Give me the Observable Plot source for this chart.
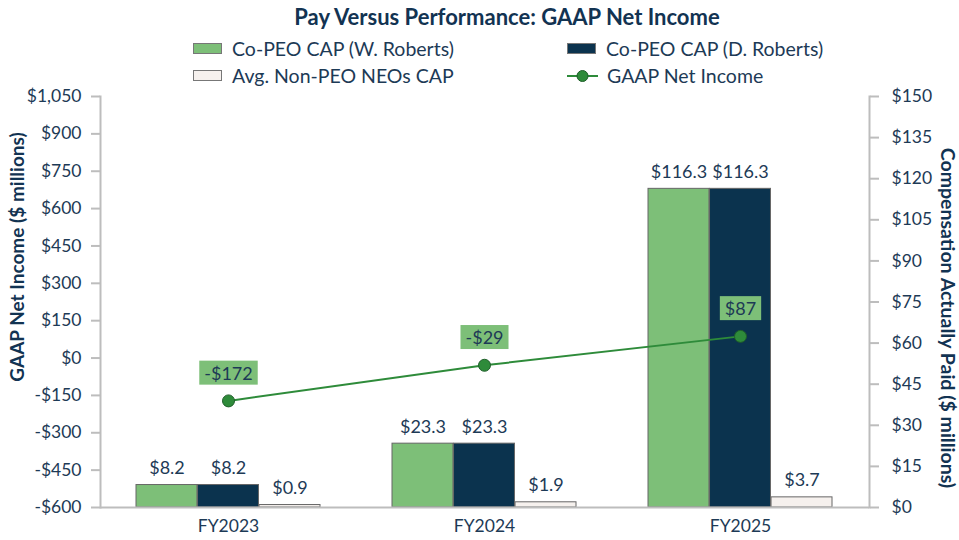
<!DOCTYPE html>
<html>
<head>
<meta charset="utf-8">
<script src="https://cdn.jsdelivr.net/npm/d3@7"></script>
<script src="https://cdn.jsdelivr.net/npm/@observablehq/plot@0.6"></script>
<style>
  body { margin: 0; background: #fff; font-family: Lato, "Open Sans", sans-serif; color: #1d3a56; }
  #wrap { position: relative; width: 959px; height: 540px; }
  #title { position: absolute; top: 3px; left: 0; width: 1014px; text-align: center; font-weight: 700; font-size: 22px; color: #123352; z-index: 2; }
  #legend { position: absolute; top: 0; left: 0; z-index: 2; }
  .leg { position: absolute; font-size: 19.5px; display: flex; align-items: center; white-space: nowrap; color: #1d3a56; }
  .sw { display: inline-block; width: 29px; height: 11px; border: 1px solid #777; margin-right: 10px; box-sizing: border-box; }
  #chart { position: absolute; top: 80px; left: 0; z-index: 1; }
</style>
</head>
<body>
<div id="wrap">
  <div id="title">Pay Versus Performance: GAAP Net Income</div>
  <div id="legend"></div>
  <div id="chart"></div>
</div>
<script>
const years = ["FY2023", "FY2024", "FY2025"];
const capWRoberts = [8.2, 23.3, 116.3];
const capDRoberts = [8.2, 23.3, 116.3];
const capNeos = [0.9, 1.9, 3.7];
const netIncome = [-172, -29, 87];
const leftTicks = [-600, -450, -300, -150, 0, 150, 300, 450, 600, 750, 900, 1050];
const rightTicks = [0, 15, 30, 45, 60, 75, 90, 105, 120, 135, 150];
const seriesNames = ["Co-PEO CAP (W. Roberts)", "Co-PEO CAP (D. Roberts)", "Avg. Non-PEO NEOs CAP", "GAAP Net Income"];
const colors = ["#7dbf78", "#0b334e", "#f6f1ee", "#2e8b3a"];

const TEXT = "#1d3a56";
const AXIS = "#bdbdbd";
const leftMin = -600, leftMax = 1050, rightMax = 150;
const k = (leftMax - leftMin) / rightMax; // right-axis units -> left-axis units
const toLeft = v => leftMin + v * k;

const width = 959, height = 460;
const mL = 100, mR = 90;
const paddingInner = 0.28, paddingOuter = 0.14;
const step = (width - mL - mR) / (years.length - paddingInner + 2 * paddingOuter);
const bw = step * (1 - paddingInner);
const third = bw / 3;

const capSeries = [capWRoberts, capDRoberts, capNeos];
const barData = capSeries.map((arr, i) => years.map((y, j) => ({year: y, value: arr[j], s: i})));
const lineData = years.map((y, j) => ({year: y, value: netIncome[j]}));

const fmtLeft = v => (v < 0 ? "-$" : "$") + d3.format(",")(Math.abs(v));
const fmtRight = v => "$" + Math.round((v - leftMin) / k);

const marks = [];
capSeries.forEach((arr, i) => {
  marks.push(Plot.barY(barData[i], {
    x: "year", y1: leftMin, y2: d => toLeft(d.value),
    fill: colors[i], stroke: "#666", strokeWidth: 1,
    insetLeft: i * third, insetRight: (2 - i) * third
  }));
  marks.push(Plot.text(barData[i], {
    x: "year", y: d => toLeft(d.value), text: d => "$" + d.value.toFixed(1),
    dx: (i - 1) * third, dy: -11, lineAnchor: "bottom",
    fill: TEXT, fontSize: 18
  }));
});
marks.push(
  Plot.ruleY([leftMin], {stroke: AXIS, strokeWidth: 2}),
  Plot.frame({anchor: "left", stroke: AXIS, strokeWidth: 2}),
  Plot.frame({anchor: "right", stroke: AXIS, strokeWidth: 2}),
  Plot.line(lineData, {x: "year", y: "value", stroke: colors[3], strokeWidth: 2}),
  Plot.dot(lineData, {x: "year", y: "value", r: 6, fill: colors[3], stroke: "#1f5f2a", strokeWidth: 1}),
  Plot.text(lineData, {x: "year", y: "value", text: d => fmtLeft(d.value), dy: -27, fill: TEXT, fontSize: 18, className: "nilabel"}),
  Plot.axisY({ticks: leftTicks, tickFormat: fmtLeft, anchor: "left", tickSize: 9, tickPadding: 10, stroke: AXIS, strokeWidth: 2, fill: TEXT, fontSize: 17.5, label: null}),
  Plot.axisY({ticks: rightTicks.map(toLeft), tickFormat: fmtRight, anchor: "right", tickSize: 9, tickPadding: 13, stroke: AXIS, strokeWidth: 2, fill: TEXT, fontSize: 17.5, label: null}),
  Plot.axisX({tickSize: 0, tickPadding: 12, fill: TEXT, fontSize: 17.5, label: null})
);

const chart = Plot.plot({
  width, height,
  marginLeft: mL, marginRight: mR, marginTop: 16, marginBottom: 33,
  style: {fontFamily: "Lato, 'Open Sans', sans-serif", color: TEXT, background: "transparent", overflow: "visible"},
  x: {type: "band", domain: years, paddingInner, paddingOuter, axis: null},
  y: {domain: [leftMin, leftMax], axis: null},
  marks
});
document.getElementById("chart").appendChild(chart);

// label boxes behind GAAP net income labels
d3.select(chart).selectAll("g.nilabel text").each(function() {
  const b = this.getBBox();
  d3.select(this.parentNode).insert("rect", () => this)
    .attr("x", b.x - 5).attr("y", b.y - 1).attr("width", b.width + 10).attr("height", b.height + 2)
    .attr("fill", "#7dbf78")
    .attr("transform", this.getAttribute("transform"));
});

// axis titles
const svg = d3.select(chart);
svg.append("text").attr("transform", "translate(19,177) rotate(-90)")
  .attr("text-anchor", "middle").attr("dominant-baseline", "middle")
  .attr("font-weight", 700).attr("font-size", 19).attr("fill", "#123352")
  .text("GAAP Net Income ($ millions)");
svg.append("text").attr("transform", "translate(946,238) rotate(90)")
  .attr("text-anchor", "middle").attr("dominant-baseline", "middle")
  .attr("font-weight", 700).attr("font-size", 19.5).attr("fill", "#123352")
  .text("Compensation Actually Paid ($ millions)");

// legend
const legend = document.getElementById("legend");
const items = [
  {x: 193, y: 37, i: 0}, {x: 567, y: 37, i: 1},
  {x: 193, y: 64, i: 2}, {x: 567, y: 64, i: 3}
];
items.forEach(({x, y, i}) => {
  const d = document.createElement("div");
  d.className = "leg";
  d.style.left = x + "px"; d.style.top = y + "px";
  if (i < 3) {
    d.innerHTML = `<span class="sw" style="background:${colors[i]}"></span><span>${seriesNames[i]}</span>`;
  } else {
    d.innerHTML = `<svg width="31" height="14" style="margin-right:9px"><line x1="0" x2="31" y1="7" y2="7" stroke="${colors[3]}" stroke-width="2"/><circle cx="15.5" cy="7" r="5.5" fill="${colors[3]}" stroke="#1f5f2a"/></svg><span>${seriesNames[i]}</span>`;
  }
  legend.appendChild(d);
});
</script>
</body>
</html>
